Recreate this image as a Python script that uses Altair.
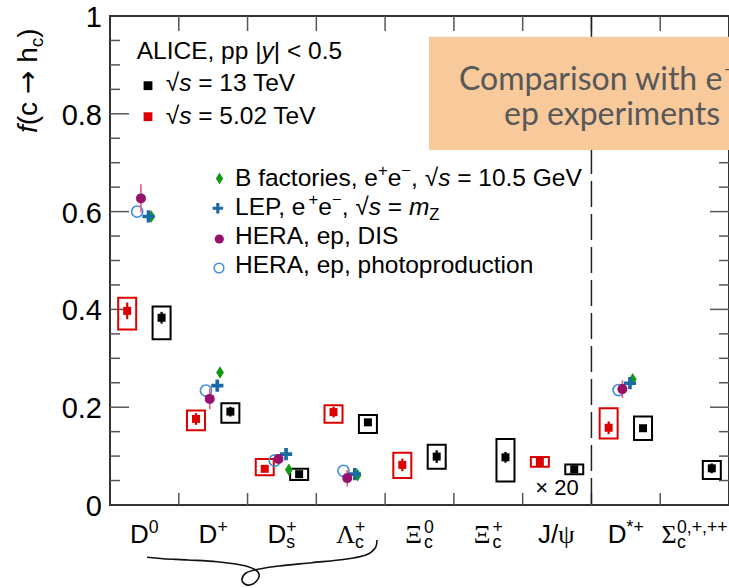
import altair as alt
import pandas as pd

# ---------------- data ----------------
species = ["D0", "D+", "Ds+", "Lc+", "Xic0", "Xic+", "J/psi", "D*+", "Sigmac"]

# ALICE pp |y|<0.5, sqrt(s) = 13 TeV  (J/psi multiplied by 20)
f13 = [0.383, 0.191, 0.063, 0.169, 0.099, 0.0975, 0.073, 0.157, 0.075]
f13_stat = [0.012, 0.010, 0.005, 0.007, 0.013, 0.011, 0.004, 0.006, 0.010]
f13_sys_lo = [0.339, 0.168, 0.051, 0.147, 0.074, 0.048, 0.063, 0.133, 0.053]
f13_sys_hi = [0.406, 0.208, 0.074, 0.184, 0.123, 0.135, 0.083, 0.181, 0.090]

# ALICE pp |y|<0.5, sqrt(s) = 5.02 TeV
f5 = [0.397, 0.176, 0.074, 0.190, 0.082, None, 0.088, 0.158, None]
f5_stat = [0.017, 0.012, 0.006, 0.011, 0.013, None, 0.005, 0.013, None]
f5_sys_lo = [0.359, 0.153, 0.061, 0.168, 0.055, None, 0.078, 0.136, None]
f5_sys_hi = [0.424, 0.193, 0.094, 0.204, 0.107, None, 0.098, 0.198, None]

# e+e- and ep measurements
ref_species = ["D0", "D+", "Ds+", "Lc+", "D*+"]
bfactories = [0.590, 0.271, 0.072, 0.061, 0.257]
lep = [0.590, 0.244, 0.104, 0.063, 0.249]
hera_dis = [0.627, 0.217, 0.094, 0.055, 0.237]
hera_dis_err = [0.029, 0.021, 0.010, 0.017, 0.018]
hera_php = [0.600, 0.234, 0.091, 0.070, 0.235]

y_major = [0, 0.2, 0.4, 0.6, 0.8, 1.0]
y_minor = [round(0.05 * k, 2) for k in range(1, 20)]
separator = 7  # between J/psi and D*+

# ---------------- style ----------------
SANS, SERIF, BOXFONT, SYMFONT = "Liberation Sans", "Liberation Serif", "Lato", "DejaVu Sans"
RED, BLACK = "#dd0000", "#000000"
GREEN, BLUE, PURPLE, LIGHTBLUE, PINK = "#129a12", "#1c6aa5", "#96106c", "#3f8ddc", "#e05c7c"
AXIS_GREY = "#555555"
DIAMOND = "M0,-1L0.62,0L0,1L-0.62,0Z"
PLUS = "M-1,-0.3H-0.3V-1H0.3V-0.3H1V0.3H0.3V1H-0.3V0.3H-1Z"

PAD_L, PAD_T, PAD_B = 110, 16, 83
W, H = 619, 489
NCAT = len(species)
PX_PER_UNIT = W / NCAT
BOX_HALF = 9 / PX_PER_UNIT


def ux(px):
    return (px - PAD_L) / PX_PER_UNIT


def uy(py):
    return (PAD_T + H - py) / H


x_scale = alt.Scale(domain=[0, NCAT], nice=False, zero=False)
y_scale = alt.Scale(domain=[0, 1], nice=False, zero=False)


def X(f):
    return alt.X(f, type="quantitative", scale=x_scale, axis=None)


def Y(f):
    return alt.Y(f, type="quantitative", scale=y_scale, axis=None)


# ---------------- text layout helpers ----------------
ADV = {" ": .278, ",": .278, ".": .278, "|": .26, "<": .584, "=": .584, "+": .584,
       "−": .584, "/": .278, "*": .389, "(": .333, ")": .333, "√": .549, "→": .838,
       "×": .584, "A": .667, "B": .667, "C": .722, "D": .722, "E": .667, "G": .778,
       "H": .722, "I": .278, "J": .5, "L": .556, "P": .667, "R": .722, "S": .667,
       "T": .611, "V": .667, "Z": .611, "a": .556, "c": .5, "d": .556, "e": .556,
       "f": .278, "h": .556, "i": .222, "m": .833, "n": .556, "o": .556, "p": .556,
       "r": .333, "s": .5, "t": .278, "u": .556, "w": .722, "x": .5, "y": .5,
       "Λ": .722, "Ξ": .722, "Σ": .593, "ψ": .686}
for d in "0123456789":
    ADV[d] = .556


def adv(s, size, k=1.0):
    return sum(ADV.get(ch, .556) for ch in s) * size * k


def rich(parts, x0, base, size, font=SANS, color=BLACK, center=False, k=1.0):
    out, x = [], x0
    small = size * 0.68
    up, down = -size * 0.40, size * 0.21
    for p in parts:
        kind = p[0]
        if kind == "ss":
            out.append(dict(t=p[1], px=x, py=base + down, s=small, f=font, st="normal", c=color, a=0))
            out.append(dict(t=p[2], px=x, py=base + up, s=small, f=font, st="normal", c=color, a=0))
            x += max(adv(p[1], small, k), adv(p[2], small, k))
            continue
        txt = p[1]
        sz = small if kind in ("sup", "sub") else size
        dy = up if kind == "sup" else (down if kind == "sub" else 0)
        body = txt.lstrip(" ")
        x += adv(txt[: len(txt) - len(body)], sz, k)
        out.append(dict(t=body.rstrip(" "), px=x, py=base + dy, s=sz,
                        f=SERIF if kind == "g" else font,
                        st="italic" if kind == "i" else "normal", c=color, a=0))
        x += adv(body, sz, k)
    if center:
        half = (x - x0) / 2
        for r in out:
            r["px"] -= half
    return out


def rich_vertical(parts, xb, y0, size, font=SANS):
    out, y = [], y0
    small = size * 0.68
    for kind, txt in parts:
        sz = small if kind == "sub" else size
        dx = size * 0.21 if kind == "sub" else 0
        body = txt.lstrip(" ")
        y -= adv(txt[: len(txt) - len(body)], sz)
        out.append(dict(t=body.rstrip(" "), px=xb + dx, py=y, s=sz,
                        f=SYMFONT if kind == "sym" else font,
                        st="italic" if kind == "i" else "normal", c=BLACK, a=270))
        y -= adv(body, sz)
    return out


# category labels under the axis
label_parts = [
    [("n", "D"), ("sup", "0")],
    [("n", "D"), ("sup", "+")],
    [("n", "D"), ("ss", "s", "+")],
    [("g", "Λ"), ("ss", "c", "+")],
    [("g", "Ξ"), ("ss", "c", "0")],
    [("g", "Ξ"), ("ss", "c", "+")],
    [("n", "J/"), ("g", "ψ")],
    [("n", "D"), ("sup", "*+")],
    [("g", "Σ"), ("ss", "c", "0,+,++")],
]

texts = []
for i, parts in enumerate(label_parts):
    cx = PAD_L + (i + 0.5) * PX_PER_UNIT
    texts += rich(parts, cx, 543, 26, center=True)

texts += rich([("n", "× 20")], PAD_L + 6.5 * PX_PER_UNIT, 495, 22, center=True)

# legend texts
LS = 24.5
texts += rich([("n", "ALICE, pp |"), ("i", "y"), ("n", "| < 0.5")], 136.7, 59.3, LS)
texts += rich([("n", "√"), ("i", "s"), ("n", " = 13 TeV")], 165.7, 90.7, LS)
texts += rich([("n", "√"), ("i", "s"), ("n", " = 5.02 TeV")], 165.7, 124, LS)
texts += rich([("n", "B factories, e"), ("sup", "+"), ("n", "e"), ("sup", "−"),
               ("n", ", √"), ("i", "s"), ("n", " = 10.5 GeV")], 235, 186, LS)
texts += rich([("n", "LEP, e"), ("sup", "+"), ("n", "e"), ("sup", "−"),
               ("n", ", √"), ("i", "s"), ("n", " = "), ("i", "m"), ("sub", "Z")], 235, 215, LS)
texts += rich([("n", "HERA, ep, DIS")], 235, 244, LS)
texts += rich([("n", "HERA, ep, photoproduction")], 235, 273, LS)

# highlighted note
texts += rich([("n", "Comparison with e"), ("sup", "+"), ("n", "e"), ("sup", "−"), ("n", ",")],
              459, 89.5, 32, font=BOXFONT, color="#585858", k=1.0)
texts += rich([("n", "ep experiments")], 504, 125, 32, font=BOXFONT, color="#585858", k=1.0)

# y-axis title
texts += rich_vertical([("i", "f"), ("n", "(c "), ("sym", "→"), ("n", " h"), ("sub", "c"), ("n", ")")],
                       37, 133, 28)

text_df = pd.DataFrame(texts)
text_df["x"] = text_df["px"].map(ux)
text_df["y"] = text_df["py"].map(uy)

# ---------------- layers ----------------
layers = []

# axis ticks (inward)
xt = pd.DataFrame({"x": list(range(1, NCAT))})
layers.append(alt.Chart(xt).mark_rule(color=AXIS_GREY, strokeWidth=1.5).encode(
    x=X("x"), y=alt.value(H), y2=alt.value(H - 12)))
layers.append(alt.Chart(xt).mark_rule(color=AXIS_GREY, strokeWidth=1.5).encode(
    x=X("x"), y=alt.value(0), y2=alt.value(15)))

minor = pd.DataFrame({"v": [v for v in y_minor if round(v / 0.2, 6) % 1 != 0]})
major = pd.DataFrame({"v": [v for v in y_major if 0 < v < 1]})
for frame, length in [(major, 19), (minor, 10)]:
    layers.append(alt.Chart(frame).mark_rule(color=AXIS_GREY, strokeWidth=1.5).encode(
        y=Y("v"), x=alt.value(0), x2=alt.value(length)))
    layers.append(alt.Chart(frame).mark_rule(color=AXIS_GREY, strokeWidth=1.5).encode(
        y=Y("v"), x=alt.value(W), x2=alt.value(W - length)))

# y tick labels
ylab = pd.DataFrame({"v": y_major, "lab": [f"{v:g}" for v in y_major]})
layers.append(alt.Chart(ylab).mark_text(font=SANS, fontSize=29, align="right", baseline="middle",
                                        color=BLACK, dy=2).encode(
    y=Y("v"), x=alt.value(-8), text="lab:N"))

# separator between open charm + J/psi and excited states
layers.append(alt.Chart(pd.DataFrame({"x": [separator]})).mark_rule(
    color="#222222", strokeWidth=1.5, strokeDash=[26, 7]).encode(
    x=X("x"), y=alt.value(0), y2=alt.value(H)))

# highlighted note background
note = pd.DataFrame({"x": [ux(429)], "x2": [ux(800)], "y": [uy(36.7)], "y2": [uy(150)]})
layers.append(alt.Chart(note).mark_rect(color="#F7C99B").encode(
    x=X("x"), x2="x2:Q", y=Y("y"), y2="y2:Q"))


def alice_df(vals, stat, lo, hi, shift):
    rows = []
    for i, v in enumerate(vals):
        if v is None:
            continue
        xc = i + 0.5 + shift
        rows.append(dict(x=xc, xl=xc - BOX_HALF, xr=xc + BOX_HALF, v=v,
                         slo=v - stat[i], shi=v + stat[i], blo=lo[i], bhi=hi[i]))
    return pd.DataFrame(rows)


for vals, stat, lo, hi, shift, col in [
        (f5, f5_stat, f5_sys_lo, f5_sys_hi, -0.25, RED),
        (f13, f13_stat, f13_sys_lo, f13_sys_hi, 0.25, BLACK)]:
    df = alice_df(vals, stat, lo, hi, shift)
    layers.append(alt.Chart(df).mark_rect(fill="white", fillOpacity=0, stroke=col, strokeWidth=2).encode(
        x=X("xl"), x2="xr:Q", y=Y("blo"), y2="bhi:Q"))
    layers.append(alt.Chart(df).mark_rule(color=col, strokeWidth=2.2).encode(
        x=X("x"), y=Y("slo"), y2="shi:Q"))
    layers.append(alt.Chart(df).mark_point(shape="square", filled=True, size=64, color=col, opacity=1).encode(
        x=X("x"), y=Y("v")))


def ref_df(vals, shift, err=None):
    rows = []
    for j, (sp, v) in enumerate(zip(ref_species, vals)):
        xc = species.index(sp) + 0.5 + shift
        r = dict(x=xc, v=v)
        if err is not None:
            r["lo"], r["hi"] = v - err[j], v + err[j]
        rows.append(r)
    return pd.DataFrame(rows)


def sym(df, shape, col, size, filled=True, sw=1.0):
    return alt.Chart(df).mark_point(shape=shape, filled=filled, size=size, color=col,
                                    opacity=1, strokeWidth=sw).encode(x=X("x"), y=Y("v"))


layers.append(sym(ref_df(bfactories, 0.10), DIAMOND, GREEN, 160))
layers.append(sym(ref_df(lep, 0.06), PLUS, BLUE, 150))
layers.append(sym(ref_df(hera_php, -0.105), "circle", LIGHTBLUE, 125, filled=False, sw=1.6))
dis = ref_df(hera_dis, -0.05, hera_dis_err)
layers.append(alt.Chart(dis).mark_rule(color=PINK, strokeWidth=1.6).encode(
    x=X("x"), y=Y("lo"), y2="hi:Q"))
layers.append(sym(dis, "circle", PURPLE, 100))


# legend symbols
def at(px, py):
    return pd.DataFrame({"x": [ux(px)], "v": [uy(py)]})


layers.append(sym(at(148, 85.7), "square", BLACK, 78))
layers.append(sym(at(148, 116.7), "square", RED, 78))
layers.append(sym(at(219.5, 178.5), DIAMOND, GREEN, 140))
layers.append(sym(at(217.8, 208.3), PLUS, BLUE, 110))
layers.append(sym(at(219.3, 239), "circle", PURPLE, 85))
layers.append(sym(at(219, 268), "circle", LIGHTBLUE, 95, filled=False, sw=1.5))

# all text runs
for (f, st, a), g in text_df.groupby(["f", "st", "a"]):
    layers.append(alt.Chart(g.reset_index(drop=True)).mark_text(
        font=f, fontStyle=st, angle=float(a), align="left", baseline="alphabetic").encode(
        x=X("x"), y=Y("y"), text="t:N",
        size=alt.Size("s:Q", scale=None), color=alt.Color("c:N", scale=None)))

# hand-drawn brace under the open-charm ground states
brace_px = [(147, 557.3), (163, 558.7), (188, 560), (217, 561.7), (241, 565), (254, 569),
            (259, 574), (257, 580.5), (250, 585), (244, 583.5), (242, 579), (246, 573),
            (258, 569.3), (279, 566), (312, 562.7), (345, 559.3), (366, 555), (375, 548.3),
            (377, 540)]
brace = pd.DataFrame({"i": list(range(len(brace_px))),
                      "x": [ux(p[0]) for p in brace_px],
                      "y": [uy(p[1]) for p in brace_px]})
layers.append(alt.Chart(brace).mark_line(color="#111111", strokeWidth=1.6, interpolate="cardinal").encode(
    x=X("x"), y=Y("y"), order="i:Q"))

chart = alt.layer(*layers).properties(
    width=W, height=H,
    autosize=alt.AutoSizeParams(type="none"),
    padding={"left": PAD_L, "top": PAD_T, "right": 0, "bottom": PAD_B},
    background="white",
).configure_view(stroke="#333333", strokeWidth=2)

chart.save("out.html", embed_options={"renderer": "svg", "actions": False})
